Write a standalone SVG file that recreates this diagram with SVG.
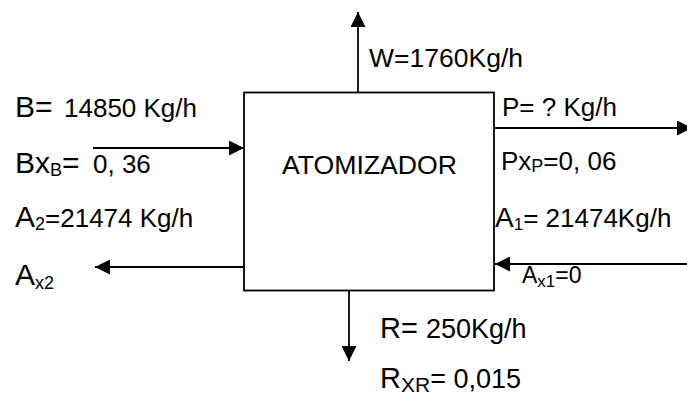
<svg xmlns="http://www.w3.org/2000/svg" width="687" height="400" viewBox="0 0 687 400">
<style>
text{font-family:"Liberation Sans",Arial,sans-serif;fill:#000;}
.big{font-size:30px;}
.val{font-size:26px;}
.sub{font-size:18px;}
.ln{stroke:#000;stroke-width:1.8;fill:none;}
</style>
<defs>
<marker id="ah" markerUnits="userSpaceOnUse" markerWidth="15" markerHeight="15" refX="15" refY="7.5" orient="auto">
<path d="M0,0 L15,7.5 L0,15 z" fill="#000"/>
</marker>
</defs>
<rect width="687" height="400" fill="#fff"/>
<g id="atomizador">
<rect x="244" y="92.5" width="250" height="198" fill="#fff" stroke="#000" stroke-width="1.8"/>
<text x="282" y="174" font-size="26.5" textLength="175" lengthAdjust="spacingAndGlyphs">ATOMIZADOR</text>
</g>
<g id="connectors">
<line class="ln" x1="93" y1="148" x2="244" y2="148" marker-end="url(#ah)"/>
<line class="ln" x1="244" y1="267" x2="95" y2="267" marker-end="url(#ah)"/>
<line class="ln" x1="358" y1="92" x2="358" y2="12" marker-end="url(#ah)"/>
<line class="ln" x1="349" y1="291" x2="349" y2="361" marker-end="url(#ah)"/>
<line class="ln" x1="494" y1="128" x2="692" y2="128" marker-end="url(#ah)"/>
<line class="ln" x1="687" y1="264" x2="495" y2="264" marker-end="url(#ah)"/>
</g>
<g id="label-B">
<text x="15" y="117"><tspan class="big">B=</tspan><tspan x="64" class="val">14850 Kg/h</tspan></text>
<text x="15" y="173"><tspan class="big">Bx</tspan><tspan class="sub" dy="3" font-size="20">B</tspan><tspan class="big" dy="-3">=</tspan><tspan x="93" class="val">0, 36</tspan></text>
</g>
<g id="label-A2">
<text x="15" y="227"><tspan class="big">A</tspan><tspan class="sub" dy="3" font-size="20">2</tspan><tspan class="val" dy="-3">=21474 Kg/h</tspan></text>
<text x="15" y="285"><tspan class="big">A</tspan><tspan class="sub" dy="4" font-size="20">x2</tspan></text>
</g>
<g id="label-W">
<text x="369" y="67" class="val" textLength="154" lengthAdjust="spacingAndGlyphs">W=1760Kg/h</text>
</g>
<g id="label-P">
<text x="502" y="116" class="val">P= ? Kg/h</text>
<text x="501" y="170"><tspan class="val">Px</tspan><tspan class="sub" dy="2" font-size="17">P</tspan><tspan class="val" dy="-2">=0, 06</tspan></text>
</g>
<g id="label-A1">
<text x="495" y="227"><tspan font-size="28">A</tspan><tspan dy="3" font-size="17">1</tspan><tspan class="val" dy="-3">= 21474Kg/h</tspan></text>
<text x="522" y="283"><tspan font-size="23">A</tspan><tspan dy="4" font-size="17">x1</tspan><tspan font-size="23" dy="-4">=0</tspan></text>
</g>
<g id="label-R">
<text x="380" y="338"><tspan font-size="29">R=</tspan><tspan x="426" font-size="27">250Kg/h</tspan></text>
<text x="380" y="388"><tspan font-size="29">R</tspan><tspan dy="4" font-size="21">XR</tspan><tspan font-size="27" dy="-4">= 0,015</tspan></text>
</g>
</svg>
